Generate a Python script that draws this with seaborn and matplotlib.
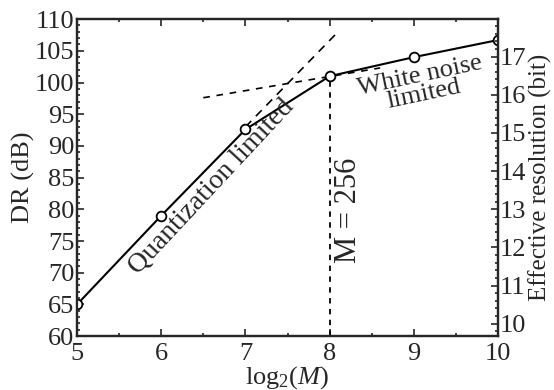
import numpy as np
import pandas as pd
import matplotlib
matplotlib.use("Agg")
import matplotlib.pyplot as plt
import seaborn as sns
from matplotlib.ticker import MultipleLocator

# data
log2_m = [5, 6, 7, 8, 9, 10]
dr_db = [65.0, 79.0, 92.6, 101.0, 104.0, 106.7]

# asymptote guide lines (dashed)
quant_x = [7.0, 8.1]
quant_y = [93.0, 108.0]
white_x = [6.5, 8.6]
white_y = [97.6, 102.3]

sns.set_style("ticks")
plt.rcParams['font.family'] = 'serif'
plt.rcParams['font.serif'] = ['Liberation Serif', 'DejaVu Serif']
plt.rcParams['mathtext.fontset'] = 'custom'
plt.rcParams['mathtext.rm'] = 'Liberation Serif'
plt.rcParams['mathtext.it'] = 'Liberation Serif:italic'

df = pd.DataFrame({"log2M": log2_m, "DR": dr_db})

fig = plt.figure(figsize=(5.54, 3.9), dpi=100)
ax = fig.add_axes([0.139, 0.138, 0.760, 0.813])

sns.lineplot(data=df, x="log2M", y="DR", ax=ax, color="black", lw=1.5,
             marker="o", markersize=7, markerfacecolor="white",
             markeredgecolor="black", markeredgewidth=1.3, zorder=3)
ax.plot(quant_x, quant_y, ls=(0, (5, 4)), color="black", lw=1.2)
ax.plot(white_x, white_y, ls=(0, (4, 4)), color="black", lw=1.2)
ax.plot([8, 8], [60, 101], ls=(0, (3, 3)), color="black", lw=1.3)

ax.set_xlim(5, 10)
ax.set_ylim(60, 110)
ax.xaxis.set_major_locator(MultipleLocator(1))
ax.xaxis.set_minor_locator(MultipleLocator(0.5))
ax.yaxis.set_major_locator(MultipleLocator(5))
ax.yaxis.set_minor_locator(MultipleLocator(1))
ax.tick_params(which="both", direction="in", top=True, labelsize=19, width=1.2)
ax.tick_params(which="major", length=5)
ax.tick_params(which="minor", length=2.5)
ax.tick_params(axis="x", pad=5)
ax.tick_params(axis="y", pad=2)
for s in ax.spines.values():
    s.set_linewidth(1.6)

ax.set_xlabel(r"log$_2$($M$)", fontsize=19, labelpad=-1)
ax.set_ylabel("DR (dB)", fontsize=19, labelpad=0)

ax2 = ax.twinx()
ax2.set_ylim((60 - 1.76) / 6.02, (110 - 1.76) / 6.02)
ax2.yaxis.set_major_locator(MultipleLocator(1))
ax2.yaxis.set_minor_locator(MultipleLocator(0.2))
ax2.tick_params(which="both", direction="in", labelsize=19, width=1.2, pad=1)
ax2.tick_params(which="major", length=5)
ax2.tick_params(which="minor", length=2.5)
ax2.set_ylabel("Effective resolution (bit)", fontsize=18, labelpad=2)
for s in ax2.spines.values():
    s.set_linewidth(1.6)

ax.text(6.6, 83.6, "Quantization limited", fontsize=20, rotation=47,
        ha="center", va="center")
ax.text(9.1, 99.6, "White noise\nlimited", fontsize=19, rotation=12,
        ha="center", va="center", linespacing=0.8)
ax.text(8.22, 79.9, "M = 256", fontsize=22, rotation=90,
        ha="center", va="center")

fig.savefig("out.png", dpi=100)
